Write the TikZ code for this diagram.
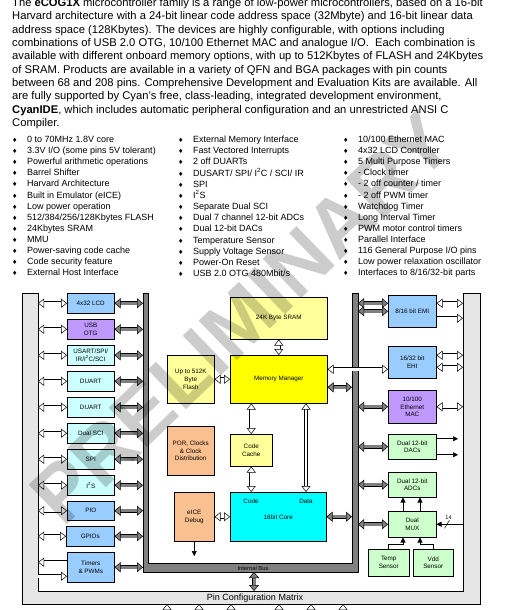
\documentclass[tikz,border=0pt]{standalone}
\usepackage{fontspec}
\setmainfont{Liberation Sans}
\newfontfamily\symfont{DejaVu Sans}
\usetikzlibrary{arrows.meta}
\definecolor{lblue}{HTML}{99CCFF}
\definecolor{lpurple}{HTML}{C099FF}
\definecolor{lcyan}{HTML}{CCFFFF}
\definecolor{lyellow}{HTML}{FFFF99}
\definecolor{myellow}{HTML}{FFFF00}
\definecolor{lorange}{HTML}{FAC090}
\definecolor{mcyan}{HTML}{00FFFF}
\definecolor{lgreen}{HTML}{CCFFCC}
\definecolor{bandgray}{HTML}{E6E6E6}
\definecolor{busgray}{HTML}{808080}
\newcommand{\bul}{{\symfont\fontsize{6}{6}\selectfont ♦}}

\begin{document}
\begin{tikzpicture}[x=1pt,y=-1pt,
  blk/.style={draw,line width=0.5pt,anchor=north west,align=center,inner sep=0pt,font=\fontsize{6.3}{7.8}\selectfont},
  lbl/.style={inner sep=0pt,font=\fontsize{6.3}{7.8}\selectfont},
  hollow/.style={line width=0.5pt,double=white,double distance=2.8pt,
    {Triangle[length=6pt,width=9pt,fill=white]}-{Triangle[length=6pt,width=9pt,fill=white]}},
  hollowend/.style={line width=0.5pt,double=white,double distance=2.8pt,
    -{Triangle[length=6pt,width=9pt,fill=white]}},
  busarrow/.style={line width=0.5pt,double=busgray,double distance=3pt,
    {Triangle[length=6pt,width=10pt,fill=busgray]}-{Triangle[length=6pt,width=10pt,fill=busgray]}},
  sig/.style={line width=0.6pt,-{Triangle[length=5pt,width=5pt]}}]
\clip (0,0) rectangle (512,610);
\fill[white] (0,0) rectangle (512,610);
% Text
\node[anchor=north west,align=left,inner sep=0pt,font=\fontsize{11.2}{13.3}\selectfont] (intro) at (12,-1.7) {%
The \textbf{eCOG1X} microcontroller family is a range of low-power microcontrollers, based on a 16-bit\\
Harvard architecture with a 24-bit linear code address space (32Mbyte) and 16-bit linear data\\
address space (128Kbytes). The devices are highly configurable, with options including\\
combinations of USB 2.0 OTG, 10/100 Ethernet MAC and analogue I/O.~ Each combination is\\
available with different onboard memory options, with up to 512Kbytes of FLASH and 24Kbytes\\
of SRAM. Products are available in a variety of QFN and BGA packages with pin counts\\
between 68 and 208 pins. Comprehensive Development and Evaluation Kits are available. All\\
are fully supported by Cyan’s free, class-leading, integrated development environment,\\
\textbf{CyanIDE}, which includes automatic peripheral configuration and an unrestricted ANSI C\\
Compiler.};
\node[anchor=north west,inner sep=0pt,font=\fontsize{9}{11.12}\selectfont] (featA) at (12,134.5) {%
\begin{tabular}{@{}p{15pt}@{}l@{}}
\bul & 0 to 70MHz 1.8V core\\
\bul & 3.3V I/O (some pins 5V tolerant)\\
\bul & Powerful arithmetic operations\\
\bul & Barrel Shifter\\
\bul & Harvard Architecture\\
\bul & Built in Emulator (eICE)\\
\bul & Low power operation\\
\bul & 512/384/256/128Kbytes FLASH\\
\bul & 24Kbytes SRAM\\
\bul & MMU\\
\bul & Power-saving code cache\\
\bul & Code security feature\\
\bul & External Host Interface
\end{tabular}};
\node[anchor=north west,inner sep=0pt,font=\fontsize{9}{11.12}\selectfont] (featB) at (178,134.5) {%
\begin{tabular}{@{}p{15pt}@{}l@{}}
\bul & External Memory Interface\\
\bul & Fast Vectored Interrupts\\
\bul & 2 off DUARTs\\
\bul & DUSART/ SPI/ I\textsuperscript{2}C / SCI/ IR\\
\bul & SPI\\
\bul & I\textsuperscript{2}S\\
\bul & Separate Dual SCI\\
\bul & Dual 7 channel 12-bit ADCs\\
\bul & Dual 12-bit DACs\\
\bul & Temperature Sensor\\
\bul & Supply Voltage Sensor\\
\bul & Power-On Reset\\
\bul & USB 2.0 OTG 480Mbit/s
\end{tabular}};
\node[anchor=north west,inner sep=0pt,font=\fontsize{9}{11.12}\selectfont] (featC) at (343,134.5) {%
\begin{tabular}{@{}p{15pt}@{}l@{}}
\bul & 10/100 Ethernet MAC\\
\bul & 4x32 LCD Controller\\
\bul & 5 Multi Purpose Timers\\
\bul & - Clock timer\\
\bul & - 2 off counter / timer\\
\bul & - 2 off PWM timer\\
\bul & Watchdog Timer\\
\bul & Long Interval Timer\\
\bul & PWM motor control timers\\
\bul & Parallel Interface\\
\bul & 116 General Purpose I/O pins\\
\bul & Low power relaxation oscillator\\
\bul & Interfaces to 8/16/32-bit parts
\end{tabular}};
% Pin configuration matrix and internal bus
\filldraw[fill=bandgray,line width=0.5pt] (22,293) -- (22,604) -- (480,604) -- (480,293) -- (463,293)
  -- (463,591) -- (38,591) -- (38,293) -- cycle;
\filldraw[fill=busgray,line width=0.5pt] (143,293) -- (143,572) -- (358,572) -- (358,293) -- (352,293)
  -- (352,563) -- (148,563) -- (148,293) -- cycle;
\node[font=\fontsize{9}{10}\selectfont,inner sep=0pt] (pcmtext) at (255,598) {Pin Configuration Matrix};
\node[font=\fontsize{5.8}{6}\selectfont,inner sep=0pt] (ibustext) at (253,568) {Internal Bus};
\coordinate (lband) at (38,0);
\coordinate (rband) at (463,0);
\coordinate (busL) at (143,0);
\coordinate (busRin) at (352,0);
\coordinate (busR) at (358,0);
% Left peripherals
\node[blk,fill=lblue,minimum width=47pt,minimum height=20pt] (lcd) at (67,293) {4x32 LCD};
\node[blk,fill=lpurple,minimum width=47pt,minimum height=20pt] (usb) at (67,319) {USB\\OTG};
\node[blk,fill=lcyan,minimum width=47pt,minimum height=20pt] (usart) at (67,345) {USART/SPI/\\IR/I\textsuperscript{2}C/SCI};
\node[blk,fill=lcyan,minimum width=47pt,minimum height=20pt] (duartA) at (67,371) {DUART};
\node[blk,fill=lcyan,minimum width=47pt,minimum height=20pt] (duartB) at (67,397) {DUART};
\node[blk,fill=lcyan,minimum width=47pt,minimum height=20pt] (sci) at (67,423) {Dual SCI};
\node[blk,fill=lcyan,minimum width=47pt,minimum height=20pt] (spi) at (67,449) {SPI};
\node[blk,fill=lcyan,minimum width=47pt,minimum height=20pt] (iis) at (67,475) {I\textsuperscript{2}S};
\node[blk,fill=lblue,minimum width=47pt,minimum height=19pt] (pio) at (67,501) {PIO};
\node[blk,fill=lblue,minimum width=48pt,minimum height=20pt] (gpio) at (66,526) {GPIOs};
\node[blk,fill=lblue,minimum width=47pt,minimum height=30pt] (tmr) at (67,552) {Timers\\\& PWMs};
\draw[hollow] (lband |- lcd.west) -- (lcd.west);
\draw[hollow] (lband |- usb.west) -- (usb.west);
\draw[hollow] (lband |- usart.west) -- (usart.west);
\draw[hollow] (lband |- duartA.west) -- (duartA.west);
\draw[hollow] (lband |- duartB.west) -- (duartB.west);
\draw[hollow] (lband |- sci.west) -- (sci.west);
\draw[hollow] (lband |- spi.west) -- (spi.west);
\draw[hollow] (lband |- iis.west) -- (iis.west);
\draw[hollow] (lband |- pio.west) -- (pio.west);
\draw[hollow] (lband |- gpio.west) -- (gpio.west);
\draw[hollowend] ([yshift=5pt]tmr.west) -- ([yshift=5pt]tmr.west -| lband);
\draw[hollowend] ([yshift=-9pt]tmr.west -| lband) -- ([yshift=-9pt]tmr.west);
\draw[busarrow] (lcd.east) -- (busL |- lcd.east);
\draw[busarrow] (usb.east) -- (busL |- usb.east);
\draw[busarrow] (usart.east) -- (busL |- usart.east);
\draw[busarrow] (duartA.east) -- (busL |- duartA.east);
\draw[busarrow] (duartB.east) -- (busL |- duartB.east);
\draw[busarrow] (sci.east) -- (busL |- sci.east);
\draw[busarrow] (spi.east) -- (busL |- spi.east);
\draw[busarrow] (iis.east) -- (busL |- iis.east);
\draw[busarrow] (pio.east) -- (busL |- pio.east);
\draw[busarrow] (gpio.east) -- (busL |- gpio.east);
\draw[busarrow] (tmr.east) -- (busL |- tmr.east);
% Core side
\node[blk,fill=lyellow,minimum width=97pt,minimum height=42pt] (sram) at (230,297) {24K Byte SRAM};
\node[blk,fill=myellow,minimum width=97pt,minimum height=48pt] (mm) at (230,355) {Memory Manager};
\node[blk,fill=lyellow,minimum width=47pt,minimum height=48pt] (flash) at (167,355) {Up to 512K\\Byte\\Flash};
\node[blk,fill=lorange,minimum width=47pt,minimum height=49pt] (por) at (167,426) {POR, Clocks\\\& Clock\\Distribution};
\node[blk,fill=lyellow,minimum width=42pt,minimum height=32pt] (cache) at (230,434) {Code\\Cache};
\node[blk,fill=lorange,minimum width=40pt,minimum height=49pt] (eice) at (174,492) {eICE\\Debug};
\node[blk,fill=mcyan,minimum width=96pt,minimum height=49pt] (core) at (230,492) {16bit Core};
\node[lbl] (codelbl) at (251,501) {Code};
\node[lbl] (datalbl) at (306,501) {Data};
\coordinate (mmx) at ([yshift=10pt]mm.east);
\coordinate (dbgout) at (194,556);
\draw[hollow] (sram.south) -- (mm.north);
\draw[hollow] (flash.east) -- (mm.west);
\draw[hollow] (mm.south -| cache.north) -- (cache.north);
\draw[hollow] (cache.south) -- (core.north -| cache.south);
\draw[hollow] (mm.south -| datalbl) -- (core.north -| datalbl);
\draw[hollow] (eice.east) -- (core.west);
\draw[sig] (eice.south) -- (eice.south |- dbgout);
\draw[hollow] (mmx) -- (mmx -| 388,0);
\draw[busarrow] ([yshift=-8pt]mm.east) -- ([yshift=-8pt]mm.east -| busRin);
\draw[busarrow] (core.east) -- (core.east -| busRin);
% Right peripherals
\node[blk,fill=lblue,minimum width=48pt,minimum height=32pt] (emi) at (388,295) {8/16 bit EMI};
\node[blk,fill=lblue,minimum width=48pt,minimum height=32pt] (ehi) at (388,346) {16/32 bit\\EHI};
\node[blk,fill=lpurple,minimum width=48pt,minimum height=33pt] (eth) at (388,390) {10/100\\Ethernet\\MAC};
\node[blk,fill=lgreen,minimum width=48pt,minimum height=25pt] (dac) at (388,434) {Dual 12-bit\\DACs};
\node[blk,fill=lgreen,minimum width=48pt,minimum height=25pt] (adc) at (388,472) {Dual 12-bit\\ADCs};
\node[blk,fill=lgreen,minimum width=48pt,minimum height=26pt] (mux) at (388,511) {Dual\\MUX};
\node[blk,fill=lgreen,minimum width=41pt,minimum height=27pt] (temp) at (368,549) {Temp\\Sensor};
\node[blk,fill=lgreen,minimum width=40pt,minimum height=27pt] (vdd) at (413,549) {Vdd\\Sensor};
\coordinate (dacout) at (458,0);
\coordinate (tj) at (403,544);
\coordinate (vj) at (420,544);
\draw[busarrow] (busR |- emi.west) -- (emi.west);
\draw[busarrow] ([yshift=8pt]emi.west -| busR) -- ([yshift=8pt]emi.west);
\draw[busarrow] (busR |- eth.west) -- (eth.west);
\draw[busarrow] (busR |- dac.west) -- (dac.west);
\draw[busarrow] (busR |- adc.west) -- (adc.west);
\draw[busarrow] (busR |- mux.west) -- (mux.west);
\draw[hollow] ([yshift=8pt]emi.east) -- ([yshift=8pt]emi.east -| rband);
\draw[hollowend] ([yshift=-7pt]emi.east) -- ([yshift=-7pt]emi.east -| rband);
\draw[hollow] ([yshift=7pt]ehi.east) -- ([yshift=7pt]ehi.east -| rband);
\draw[hollow] ([yshift=-5pt]ehi.east) -- ([yshift=-5pt]ehi.east -| rband);
\draw[hollow] (eth.east) -- (eth.east -| rband);
\draw[sig] ([yshift=8pt]dac.east) -- ([yshift=8pt]dac.east -| dacout);
\draw[sig] ([yshift=-8pt]dac.east) -- ([yshift=-8pt]dac.east -| dacout);
\draw[sig] (mux.north -| tj) -- (adc.south -| tj);
\draw[sig] (mux.north -| vj) -- (adc.south -| vj);
\draw[sig] (temp.north) |- (tj) -- (tj |- mux.south);
\draw[sig] (vdd.north) |- (vj) -- (vj |- mux.south);
\draw[sig] (rband |- mux.east) -- (mux.east);
\draw[line width=0.5pt] ([xshift=8pt,yshift=-4pt]mux.east) -- ++(5,-8);
\node[lbl,font=\fontsize{5.5}{6}\selectfont] (nbits) at ([xshift=12pt,yshift=7pt]mux.east) {14};
% Bus to pins
\coordinate (ibus) at (254,572);
\coordinate (pcm) at (254,591);
\draw[busarrow] (ibus) -- (pcm);
\draw[hollow] (167,604) -- (167,628);
\draw[hollow] (199,604) -- (199,628);
\draw[hollow] (231,604) -- (231,628);
\draw[hollow] (279,604) -- (279,628);
\draw[hollow] (311,604) -- (311,628);
\draw[hollow] (343,604) -- (343,628);
% Watermark
\node[rotate=44,text=black,opacity=0.2,font=\fontsize{80}{80}\selectfont\bfseries] (wm) at (242,318) {PRELIMINARY};
\end{tikzpicture}
\end{document}
